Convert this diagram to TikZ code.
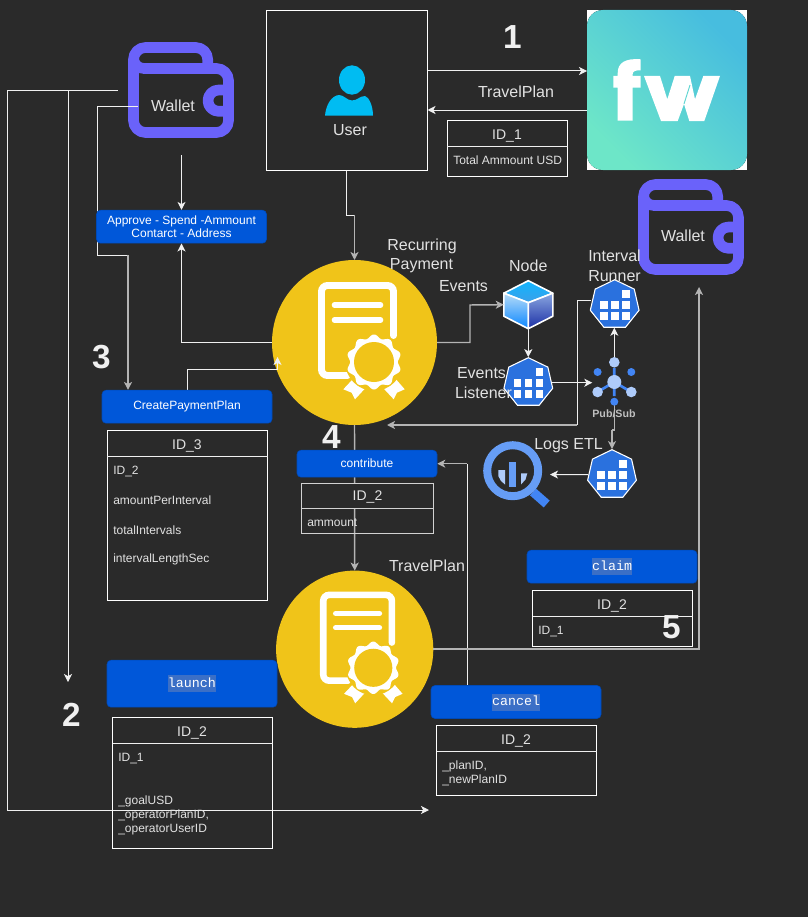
\documentclass[tikz,border=0pt]{standalone}
\usepackage{fontspec}
\setmainfont{Liberation Sans}
\newfontfamily\monof{Liberation Mono}
\usetikzlibrary{arrows.meta,shapes.geometric}
\definecolor{bg}{HTML}{2A2A2A}
\definecolor{txt}{HTML}{E2E2E2}
\definecolor{lineW}{HTML}{F0F0F0}
\definecolor{lineG}{HTML}{B4B4B4}
\definecolor{btnblue}{HTML}{0057D9}
\definecolor{selblue}{HTML}{3B6FC6}
\definecolor{goldc}{HTML}{F0C419}
\definecolor{walletc}{HTML}{6A62FA}
\definecolor{userc}{HTML}{00BCF2}
\definecolor{kubec}{HTML}{2A71DE}
\definecolor{bqa}{HTML}{669DF6}
\definecolor{bqb}{HTML}{4285F4}
\definecolor{bqc}{HTML}{AECBFA}
\definecolor{fwa}{HTML}{47BDDF}
\definecolor{fwb}{HTML}{6DE6C8}
\definecolor{cta}{HTML}{11B5FF}
\definecolor{ctb}{HTML}{3C9FE8}
\definecolor{cla}{HTML}{B6DCF8}
\definecolor{clb}{HTML}{0A86FF}
\definecolor{cra}{HTML}{8AA6E0}
\definecolor{crb}{HTML}{1B2FA5}
\pgfdeclarelayer{btn}
\pgfsetlayers{main,btn}
\tikzset{
  wl/.style={draw=lineW,line width=.75pt},
  gl/.style={draw=lineG,line width=1.1pt},
  tip/.style={-{Stealth[length=6pt,width=6pt,inset=1.6pt]}},
  btnbox/.style={fill=btnblue,draw=btnblue!85!black,line width=.4pt,rounded corners=3pt,text=white,inner sep=0pt,align=center,font=\fontsize{9}{11}\selectfont},
  tbl/.style={draw=white,line width=.75pt,inner sep=0pt},
  lbl/.style={text=txt,inner sep=0pt,align=center,yshift=-.4pt,font=\fontsize{12}{15}\selectfont},
  hdr/.style={text=txt,inner sep=0pt,text height=8.5pt,text depth=1pt,font=\fontsize{10.5}{12}\selectfont},
  row/.style={text=txt,inner sep=0pt,anchor=west,text height=7.5pt,text depth=1.5pt,font=\fontsize{9}{10.5}\selectfont},
  num/.style={text=txt!50!white,inner sep=0pt,font=\fontsize{25}{25}\selectfont\bfseries},
  kube/.style={regular polygon,regular polygon sides=7,fill=kubec,draw=white,line width=.8pt,inner sep=0pt},
  ghost/.style={inner sep=0pt,outer sep=0pt},
  coin/.style={circle,fill=goldc,inner sep=0pt,outer sep=0pt},
}
\newcommand{\seltext}[1]{{\setlength{\fboxsep}{0pt}\colorbox{selblue}{\rule[-3.4pt]{0pt}{12.75pt}\monof\fontsize{10}{12}\selectfont #1}}}
\newcommand{\walleticon}[2]{\begin{scope}[shift={(#1,#2)},draw=walletc,line width=8pt,line join=round]
  \draw[rounded corners=9pt] (79.7,26.5)--(79.7,5.5)--(5.5,5.5)--(5.5,90.5)--(100.5,90.5)--(100.5,26.5)--(70,26.5);
  \draw (5.5,16) .. controls (5.5,22) and (10,26.5) .. (16,26.5) -- (80,26.5);
  \draw (100.5,48) -- (90.6,48) .. controls (84.7,48) and (80,52.8) .. (80,58.65) .. controls (80,64.5) and (84.7,69.3) .. (90.6,69.3) -- (100.5,69.3);
\end{scope}}
\newcommand{\certicon}[3]{\begin{scope}[shift={(#1,#2)},scale=#3]
  \draw[white,line width=5.2pt*#3,rounded corners=4.5pt,line cap=round] (-7,33)--(-33,33)--(-33,-57)--(39,-57)--(39,-7);
  \draw[white,line width=4.2pt*#3,line cap=round] (-20,-37.5)--(26,-37.5);
  \draw[white,line width=4.2pt*#3,line cap=round] (-20,-22.5)--(26,-22.5);
  \fill[white] (-11.2,46.8)--(-1.8,36.8)--(12.8,43.5)--(0.5,56.8)--(-2.8,50.2)--cycle;
  \fill[white] (50.2,46.8)--(41.5,36.8)--(26.8,43.5)--(39.2,56.8)--(42.5,50.2)--cycle;
  \fill[goldc] (19.5,19.5) circle[radius=28.8];
  \fill[white] plot[domain=0:360,samples=181] ({19.5+(25.7+1.8*cos(10*(\x+90)))*cos(\x)},{19.5+(25.7+1.8*cos(10*(\x+90)))*sin(\x)}) -- cycle;
  \fill[goldc] (19.5,19.5) circle[radius=20];
\end{scope}}
\newcommand{\kubegrid}[2]{\begin{scope}[shift={(#1,#2)}]
  \foreach \gx/\gy in {11/-11,-11/0,0/0,11/0,-11/11,0/11,11/11}
    \fill[white] (\gx-3.8,\gy-3.8) rectangle (\gx+3.8,\gy+3.8);
\end{scope}}
\begin{document}
\begin{tikzpicture}[x=.75pt,y=-.75pt]
\useasboundingbox (0,0) rectangle (808,917);
\fill[bg] (0,0) rectangle (808,917);

% helper rows / columns
\coordinate (r71) at (0,71);
\coordinate (r110) at (0,110);
\coordinate (r215) at (0,215);
\coordinate (r300) at (0,300.5);
\coordinate (r430) at (0,430);
\coordinate (x128) at (128,0);
\coordinate (x467) at (467,0);
\coordinate (wa) at (181.5,155);
\coordinate (w1) at (118,91);
\coordinate (w1a) at (7.5,91);
\coordinate (w1b) at (7.5,810);
\coordinate (w1c) at (429,810);
\coordinate (w2a) at (68,91);
\coordinate (w2b) at (68,682);
\coordinate (w3) at (138,106);
\coordinate (w3a) at (97,106);
\coordinate (w3b) at (97,255);
\coordinate (w3c) at (128,255);
\coordinate (cr1) at (187,369.5);
\coordinate (cr2) at (277.5,369.5);
\coordinate (cr3) at (277.5,357);
\coordinate (ev1) at (470,342.5);
\coordinate (ev2) at (470,305);
\coordinate (ir1) at (577,300.5);
\coordinate (ir2) at (577,425);
\coordinate (ir3) at (387,425);
\coordinate (cl1) at (699,650);
\coordinate (cl2) at (699,287);

% main nodes
\node[draw=white,line width=.75pt,minimum width=120.75pt,minimum height=120pt,inner sep=0pt] (user) at (346.5,90.3) {};
\node[fill=white,minimum width=120pt,minimum height=120pt,inner sep=0pt,outer sep=0pt] (fw) at (667,90) {};
\node[coin,minimum size=123.75pt] (c1) at (354.5,342.5) {};
\node[coin,minimum size=117.9pt] (c2) at (354.7,649.2) {};
\node[ghost,minimum width=79.5pt,minimum height=72pt] (walA) at (181,90) {};
\node[ghost,minimum width=79.5pt,minimum height=72pt] (walB) at (691,227) {};
\node[ghost,minimum size=36.75pt] (cube) at (528.3,304.7) {};
\node[ghost,minimum size=33pt] (pub) at (614.3,382) {};
\node[ghost,minimum size=50.25pt] (bq) at (516.5,474.5) {};
\node[kube,minimum size=37.5pt] (kb1) at (528.3,382.7) {};
\node[kube,minimum size=37.5pt] (kb2) at (614.7,304.7) {};
\node[kube,minimum size=37.5pt] (kb3) at (612,474.7) {};

% buttons
\begin{pgfonlayer}{btn}
\node[btnbox,minimum width=127.5pt,minimum height=24.75pt] (approve) at (181.5,226.7) {Approve - Spend -Ammount\\[-.6pt]Contarct - Address};
\node[btnbox,minimum width=127.5pt,minimum height=24.75pt] (create) at (187,406.7) {CreatePaymentPlan};
\node[btnbox,minimum width=105pt,minimum height=20.25pt] (contribute) at (367,463.7) {contribute};
\node[btnbox,minimum width=127.5pt,minimum height=24.75pt] (claim) at (612,566.7) {\seltext{claim}};
\node[btnbox,minimum width=127.5pt,minimum height=35.25pt] (launch) at (192,683.7) {\seltext{launch}};
\node[btnbox,minimum width=127.5pt,minimum height=24.75pt] (cancel) at (516,702) {\seltext{cancel}};
\end{pgfonlayer}

% tile
\fill[rounded corners=12pt,shading=axis,top color=fwa,bottom color=fwb,shading angle=-45] (587,10) rectangle (747,170);
\fill[white] (617.7,120.7)--(632.7,120.7)--(632.7,87.7)--(640.7,87.7)--(640.7,76)--(632.7,76)--(632.7,74) .. controls (632.7,71) and (636,70) .. (640.7,70.5) -- (640.7,59.3) .. controls (625,58) and (617.7,63) .. (617.7,73) -- (617.7,76)--(613.3,76)--(613.3,87.7)--(617.7,87.7)--cycle;
\fill[white] (644,76)--(660,76)--(667.3,99.3)--(674.7,76)--(690,76)--(695,99.3)--(703.3,76)--(720,76)--(704.3,121)--(689.3,121)--(684,104)--(677.7,121)--(661,121)--cycle;
\draw[fwa!40!fwb,line width=.7pt] (690,85)--(684,104);

% user glyph
\fill[userc] (352,80) ellipse[x radius=13,y radius=14.7];
\fill[userc] (325,115.7) .. controls (326,104) and (332,95.5) .. (339,95) .. controls (344,95) and (347,100.5) .. (352,100.5) .. controls (357,100.5) and (360,96) .. (365,96) .. controls (369,97) and (373,106) .. (373,115.7) -- cycle;

% wallets
\walleticon{128}{42}
\walleticon{638}{179}

% coin glyphs
\certicon{354.5}{342.5}{1}
\certicon{354.7}{649.2}{0.953}

% cube
\begin{scope}[shift={(528.3,304.7)},line join=round]
  \draw[white,line width=1.2pt,top color=cta,bottom color=ctb] (0,-24)--(24.5,-11.5)--(0,-2)--(-24.5,-11.5)--cycle;
  \draw[white,line width=1.2pt,top color=cla,bottom color=clb] (-24.5,-11.5)--(0,-2)--(0,24)--(-24.5,11.5)--cycle;
  \draw[white,line width=1.2pt,top color=cra,bottom color=crb] (24.5,-11.5)--(0,-2)--(0,24)--(24.5,11.5)--cycle;
\end{scope}

% kube grids
\kubegrid{528.3}{382.7}
\kubegrid{614.7}{304.7}
\kubegrid{612}{474.7}

% big query
\draw[bqb,line width=6.8pt] (533,492)--(546.7,504);
\draw[bqa,line width=6pt] (512.7,470.7) circle[radius=25.5];
\fill[bqa] (509,462.3) rectangle (516.3,486.7);
\fill[bqc] (498.3,470)--(505,470)--(505,484.5)--(501,481)--(498.3,476)--cycle;
\fill[bqc] (521,473.3)--(527.3,473.3)--(525.5,479.5)--(521,484.5)--cycle;

% connectors
\draw[wl,tip] (user.east|-r71) -- (fw.west|-r71);
\draw[wl,tip] (fw.west|-r110) -- (user.east|-r110);
\draw[wl] (user.south) |- (c1.north|-r215);
\draw[gl,tip] (c1.north|-r215) -- (c1.north);
\draw[wl,tip] (c1.west) -| (approve.south);
\draw[wl,tip] (wa) -- (approve.north);
\draw[wl,tip] (w1) -- (w1a) -- (w1b) -- (w1c);
\draw[wl,tip] (w2a) -- (w2b);
\draw[wl] (w3) -- (w3a) -- (w3b) -- (w3c);
\draw[gl,tip] (w3c) -- (x128|-create.north);
\draw[wl,tip] (create.north) -- (cr1) -- (cr2) -- (cr3);
\draw[gl,tip] (c1.east) -- (ev1) -- (ev2) -- (cube.west);
\draw[wl,tip] (cube.south) -- (kb1.north);
\draw[wl,tip] (kb1.east) -- (pub.west|-kb1.east);
\draw[wl,tip] (pub.north) -- (pub.north|-kb2.south);
\draw[wl] (kb2.west|-r300) -- (ir1) -- (ir2);
\draw[gl,tip] (ir2) -- (ir3);
\draw[gl] (pub.south) -- (pub.south|-r430) -- (kb3.north|-r430);
\draw[gl,tip] (kb3.north|-r430) -- (kb3.north);
\draw[wl,tip] (kb3.west) -- (bq.east);
\draw[wl] (x467|-cancel.north) -- (x467|-contribute.east);
\draw[gl,tip] (x467|-contribute.east) -- (contribute.east);
\draw[gl,tip] (c1.south) -- (c2.north);
\draw[gl,tip] (c2.east) -- (c2.east-|cl1) -- (cl2);

% pub/sub glyph
\begin{scope}[shift={(614.3,382)}]
  \draw[bqb,line width=2pt] (0,-14)--(0,14) (0,0)--(-16,9.5) (0,0)--(16,9.5);
  \fill[bqc] (0,0) circle[radius=7];
  \fill[bqc] (0,-19.7) circle[radius=5.3];
  \fill[bqc] (-16.7,10) circle[radius=5.3];
  \fill[bqc] (17,10) circle[radius=5.3];
  \fill[bqb] (-16.7,-10) circle[radius=4];
  \fill[bqb] (17,-10) circle[radius=4];
  \fill[bqb] (0,19.7) circle[radius=4];
\end{scope}
\node[inner sep=0pt,text=white!50!gray,font=\fontsize{8}{9}\selectfont\bfseries] (pubtxt) at (614,413.5) {Pub/Sub};

% tables
\node[tbl,minimum width=90pt,minimum height=42pt] (t1) at (507,148) {};
\draw[wl] (447,146) coordinate (t1h) -- (t1h-|t1.east);
\node[hdr] (t1a) at (507,134) {ID\_1};
\node[row] (t1b) at (453,160) {Total Ammount USD};

\node[tbl,minimum width=120pt,minimum height=127.5pt] (t3) at (187,515) {};
\draw[wl] (107,456.5) coordinate (t3h) -- (t3h-|t3.east);
\node[hdr] (t3a) at (187,444) {ID\_3};
\node[row] (t3b) at (113,470) {ID\_2};
\node[row] (t3c) at (113,500) {amountPerInterval};
\node[row] (t3d) at (113,530) {totalIntervals};
\node[row] (t3e) at (113,558) {intervalLengthSec};

\node[tbl,draw=lineG!60!white,minimum width=99pt,minimum height=37.5pt] (t4) at (367.5,508) {};
\node[hdr,fill=bg,draw=lineG!60!white,line width=.75pt,minimum width=99pt,minimum height=19pt] (t4a) at (367.5,495.8) {ID\_2};
\node[row] (t4b) at (307,522) {ammount};

\node[tbl,minimum width=120pt,minimum height=42pt] (t5) at (612.5,618.3) {};
\draw[wl] (532.5,616.3) coordinate (t5h) -- (t5h-|t5.east);
\node[hdr] (t5a) at (612,604) {ID\_2};
\node[row] (t5b) at (538,630) {ID\_1};

\node[tbl,minimum width=120pt,minimum height=52.5pt] (t6) at (516.5,760.5) {};
\draw[wl] (436.5,751.5) coordinate (t6h) -- (t6h-|t6.east);
\node[hdr] (t6a) at (516,739) {ID\_2};
\node[row] (t6b) at (442,765) {\_planID,};
\node[row] (t6c) at (442,779) {\_newPlanID};

\node[tbl,minimum width=120pt,minimum height=98.25pt] (t7) at (192.5,782.8) {};
\draw[wl] (112.5,743.7) coordinate (t7h) -- (t7h-|t7.east);
\node[hdr] (t7a) at (192,731) {ID\_2};
\node[row] (t7b) at (118,757) {ID\_1};
\node[row] (t7c) at (118,800) {\_goalUSD};
\node[row] (t7d) at (118,814) {\_operatorPlanID,};
\node[row] (t7e) at (118,828) {\_operatorUserID};

% labels
\node[lbl] (l1) at (516,91) {TravelPlan};
\node[lbl] (l2) at (427,565.5) {TravelPlan};
\node[lbl] (l3) at (350,130) {User};
\node[lbl] (l4) at (173,105.5) {Wallet};
\node[lbl] (l5) at (683,235.5) {Wallet};
\node[lbl] (l6) at (422,246) {Recurring};
\node[lbl] (l7) at (421.5,265.5) {Payment};
\node[lbl] (l8) at (463.5,285.5) {Events};
\node[lbl] (l9) at (528.3,265.5) {Node};
\node[lbl] (l10) at (614.5,255.5) {Interval};
\node[lbl] (l11) at (614.5,275.5) {Runner};
\node[lbl] (l12) at (481.5,372.5) {Events};
\node[lbl] (l13) at (483.5,392.5) {Listener};
\node[lbl] (l14) at (568.5,445.5) {Logs ETL};

% numbers
\node[num] (n1) at (512.5,37) {1};
\node[num] (n2) at (71.5,715) {2};
\node[num] (n3) at (101.5,357) {3};
\node[num] (n4) at (331.5,437) {4};
\node[num] (n5) at (671.5,627) {5};
\end{tikzpicture}
\end{document}
